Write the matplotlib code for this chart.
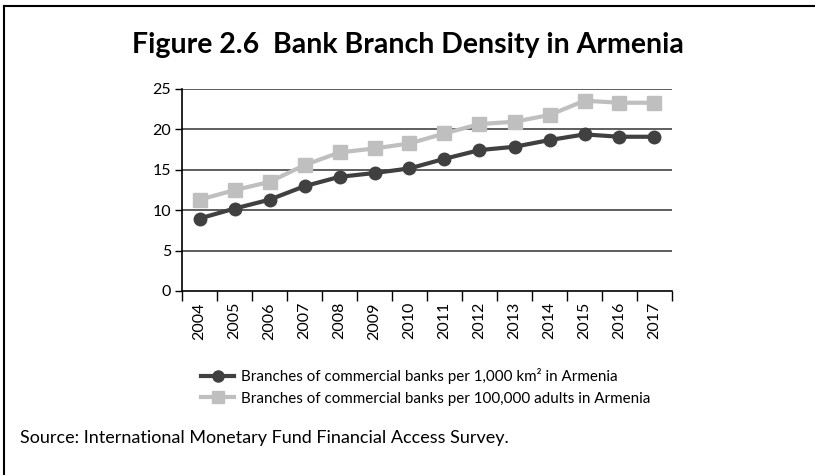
import matplotlib.pyplot as plt
from matplotlib.lines import Line2D

plt.rcParams['font.family'] = ['Lato', 'DejaVu Sans']

years = ['2004', '2005', '2006', '2007', '2008', '2009', '2010',
         '2011', '2012', '2013', '2014', '2015', '2016', '2017']
per_area = [8.97, 10.2, 11.3, 12.97, 14.13, 14.6, 15.17,
            16.36, 17.44, 17.85, 18.68, 19.38, 19.09, 19.09]
per_adults = [11.3, 12.48, 13.5, 15.58, 17.15, 17.64, 18.26,
              19.5, 20.66, 20.95, 21.78, 23.55, 23.3, 23.3]
label_area = 'Branches of commercial banks per 1,000 km\u00b2 in Armenia'
label_adults = 'Branches of commercial banks per 100,000 adults in Armenia'

dark = '#404040'
light = '#bfbfbf'

fig = plt.figure(figsize=(8.15, 4.75), dpi=100)
ax = fig.add_axes([182 / 815, 1 - 291 / 475, 490 / 815, 202 / 475])

x = range(len(years))
ax.plot(x, per_adults, color=light, lw=3, marker='s', ms=10.5, zorder=3)
ax.plot(x, per_area, color=dark, lw=3, marker='o', ms=9, zorder=4)

ax.set_xlim(-0.5, len(years) - 0.5)
ax.set_ylim(0, 25)
ax.set_yticks([0, 5, 10, 15, 20, 25])
for v in [5, 10, 15, 20, 25]:
    ax.axhline(v, color='#333333', lw=1.1, zorder=1)

# category labels at centres, tick marks between categories
ax.set_xticks(list(x))
ax.set_xticklabels(years, rotation=90)
ax.tick_params(axis='x', length=0, pad=8, labelsize=11.5)
ax.set_xticks([i - 0.5 for i in range(len(years) + 1)], minor=True)
ax.tick_params(axis='x', which='minor', length=7, width=1, direction='out')
ax.tick_params(axis='y', length=5, width=1, labelsize=11.5, pad=3)

for side in ['top', 'right']:
    ax.spines[side].set_visible(False)
ax.spines['left'].set_linewidth(1.2)
ax.spines['bottom'].set_linewidth(1.2)

handles = [
    Line2D([], [], color=dark, lw=3, marker='o', ms=8),
    Line2D([], [], color=light, lw=3, marker='s', ms=9),
]
fig.legend(handles, [label_area, label_adults], loc='upper left',
           bbox_to_anchor=(195 / 815, 1 - 362 / 475), frameon=False,
           fontsize=10.9, handlelength=2.2, handletextpad=0.45,
           labelspacing=0.5, borderaxespad=0)

fig.text(0.5, 1 - 45 / 475, 'Figure 2.6  Bank Branch Density in Armenia',
         ha='center', va='center', fontsize=20.5, fontweight='bold')
fig.text(20 / 815, 1 - 438 / 475,
         'Source: International Monetary Fund Financial Access Survey.',
         ha='left', va='center', fontsize=13)

# open frame around the figure: top and left edges only
fig.add_artist(Line2D([4 / 815, 1], [1 - 6 / 475, 1 - 6 / 475],
                      color='black', lw=1.5, transform=fig.transFigure))
fig.add_artist(Line2D([4 / 815, 4 / 815], [0, 1 - 6 / 475],
                      color='black', lw=1.5, transform=fig.transFigure))

fig.savefig('out.png', dpi=100)
